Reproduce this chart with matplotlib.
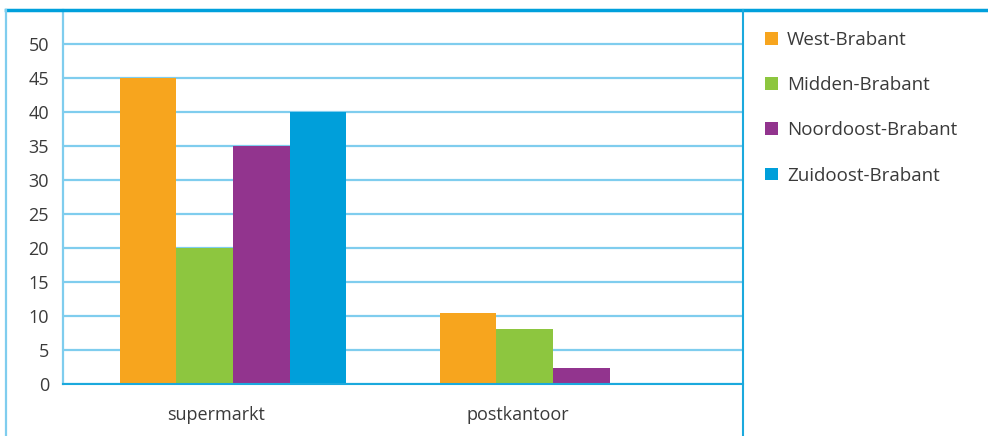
import matplotlib
matplotlib.use("Agg")
import matplotlib.pyplot as plt
import numpy as np
from matplotlib.patches import Patch
from matplotlib.lines import Line2D

plt.rcParams['font.family'] = ['Open Sans', 'DejaVu Sans']

categories = ["supermarkt", "postkantoor"]
series_names = ["West-Brabant", "Midden-Brabant", "Noordoost-Brabant", "Zuidoost-Brabant"]
west = [45, 10.5]
midden = [20, 8.1]
noordoost = [35, 2.4]
zuidoost = [40, 0]
yticks = [0, 5, 10, 15, 20, 25, 30, 35, 40, 45, 50]

colors = ["#f7a51e", "#8dc63f", "#92348e", "#009fda"]
values = [west, midden, noordoost, zuidoost]

W, H, DPI = 988, 436, 100
fig = plt.figure(figsize=(W / DPI, H / DPI), dpi=DPI)
ax = fig.add_axes([63 / W, 1 - 384 / H, (743 - 63) / W, (384 - 10) / H])

x = np.arange(len(categories))
bw = 0.177
for i, (vals, c) in enumerate(zip(values, colors)):
    ax.bar(x + (i - 1.5) * bw, vals, width=bw, color=c, linewidth=0, zorder=3)

ax.set_xlim(-0.531, 1.594)
ax.set_ylim(0, 55)
ax.set_yticks(yticks)
ax.set_yticklabels([str(t) for t in yticks])
ax.yaxis.grid(True, color="#7fcdee", linewidth=1.6, zorder=0)
ax.set_axisbelow(True)

label_shift = np.array([-0.053, -0.11])
ax.set_xticks(x + label_shift)
ax.set_xticklabels(categories)
ax.tick_params(axis='x', length=0, pad=16, labelsize=13, colors="#3a3a3a")
ax.tick_params(axis='y', length=0, pad=10, labelsize=13, colors="#3a3a3a")

for s in ["top", "right"]:
    ax.spines[s].set_visible(False)
ax.spines["left"].set_color("#7fcdee")
ax.spines["left"].set_linewidth(1.6)
ax.spines["bottom"].set_color("#1ba9dd")
ax.spines["bottom"].set_linewidth(1.5)
ax.spines["bottom"].set_zorder(4)

# frame decorations
fig.add_artist(Line2D([6 / W, 1], [1 - 10 / H] * 2, transform=fig.transFigure,
                      color="#00a0dc", linewidth=2.5))
fig.add_artist(Line2D([6 / W] * 2, [0, 1 - 10 / H], transform=fig.transFigure,
                      color="#7fcdee", linewidth=1.6))
fig.add_artist(Line2D([743 / W] * 2, [0, 1 - 10 / H], transform=fig.transFigure,
                      color="#1ba9dd", linewidth=1.5))

handles = [Patch(facecolor=c, edgecolor='none') for c in colors]
leg = fig.legend(handles, series_names, loc="upper left",
                 bbox_to_anchor=(765 / W, 1 - 31 / H), frameon=False,
                 fontsize=13.5, handlelength=0.68, handleheight=0.68,
                 handletextpad=0.5, labelspacing=1.45, borderaxespad=0,
                 borderpad=0)
for t in leg.get_texts():
    t.set_color("#3a3a3a")

fig.savefig("out.png", dpi=DPI)
